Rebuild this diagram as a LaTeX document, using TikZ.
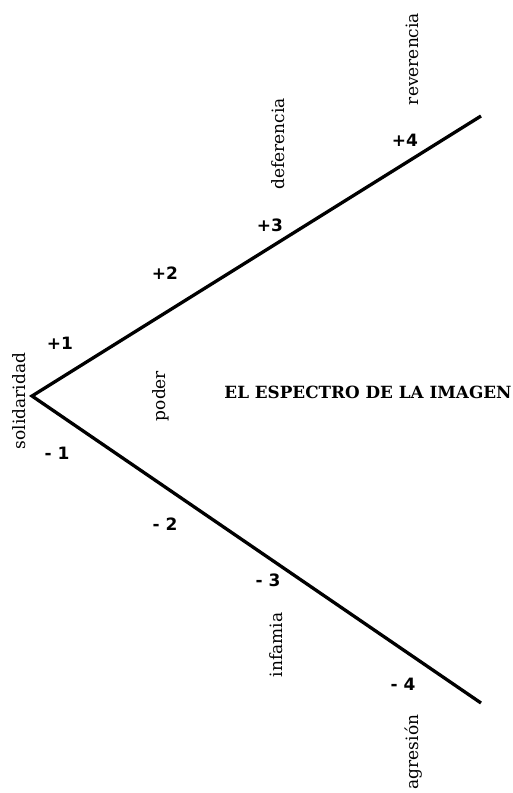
\documentclass[tikz,border=0pt]{standalone}
\usepackage{fontspec}
\setmainfont{DejaVu Serif}
\newfontfamily\numfont{DejaVu Sans}
\begin{document}
\begin{tikzpicture}[x=1pt,y=-1pt,
  word/.style={rotate=90,inner sep=0pt,font=\fontsize{17}{19}\selectfont},
  num/.style={inner sep=0pt,font=\numfont\bfseries\fontsize{17}{19}\selectfont},
  ray/.style={line width=3.3pt,line join=miter,line cap=butt}]
\useasboundingbox (0,0) rectangle (513,793);
\coordinate (v) at (32,396);
\coordinate (up) at (481,116);
\coordinate (lo) at (481,703);
\draw[ray] (up) -- (v) -- (lo);
\node[word] (solidaridad) at (19,401) {solidaridad};
\node[word] (poder) at (161,396) {poder};
\node[word] (deferencia) at (278,144) {deferencia};
\node[word] (reverencia) at (412,59) {reverencia};
\node[word] (infamia) at (276,645) {infamia};
\node[word] (agresion) at (414,752) {agresión};
\node[num] (p1) at (60,343) {+1};
\node[num] (p2) at (165,273) {+2};
\node[num] (p3) at (270,225) {+3};
\node[num] (p4) at (405,140) {+4};
\node[num] (m1) at (57,453) {- 1};
\node[num] (m2) at (165,524) {- 2};
\node[num] (m3) at (268,580) {- 3};
\node[num] (m4) at (403,684) {- 4};
\node[inner sep=0pt,font=\bfseries\fontsize{16.8}{18}\selectfont] (title) at (368,392) {EL ESPECTRO DE LA IMAGEN};
\end{tikzpicture}
\end{document}
